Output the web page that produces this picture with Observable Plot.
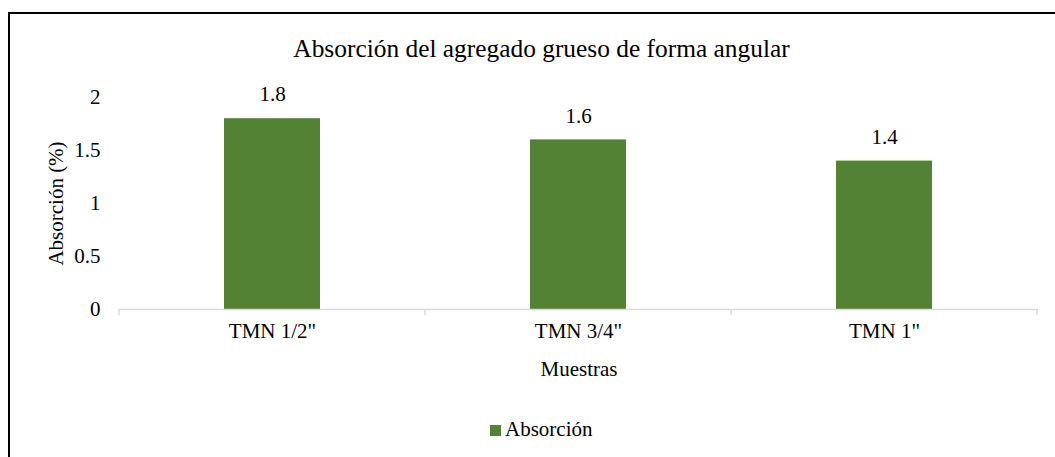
<!DOCTYPE html>
<html>
<head>
<meta charset="utf-8">
<script src="https://cdn.jsdelivr.net/npm/d3@7"></script>
<script src="https://cdn.jsdelivr.net/npm/@observablehq/plot@0.6"></script>
<style>
  html, body { margin: 0; padding: 0; background: #fff; }
  #wrap { position: relative; width: 1055px; height: 457px; overflow: hidden; font-family: "Liberation Serif", "Times New Roman", serif; }
  #frame { position: absolute; left: 8px; top: 12px; width: 1100px; height: 500px; border-left: 2px solid #000; border-top: 2px solid #000; box-sizing: border-box; pointer-events: none; }
  #title { position: absolute; left: 0; width: 1083px; top: 36px; text-align: center; font-size: 25.4px; line-height: 1; color: #000; white-space: nowrap; }
  #legend-sw { position: absolute; left: 490px; top: 425px; width: 11px; height: 11px; background: #548235; }
  #legend-tx { position: absolute; left: 505px; top: 419px; font-size: 21px; line-height: 1; color: #000; }
  #chart { position: absolute; left: 0; top: 0; }
</style>
</head>
<body>
<div id="wrap">
  <div id="chart"></div>
  <div id="frame"></div>
  <div id="title">Absorción del agregado grueso de forma angular</div>
  <div id="legend-sw"></div>
  <div id="legend-tx">Absorción</div>
</div>
<script>
const categories = ['TMN 1/2"', 'TMN 3/4"', 'TMN 1"'];
const values = [1.8, 1.6, 1.4];
const yTicks = [0, 0.5, 1, 1.5, 2];
const seriesName = "Absorción";

const data = categories.map((c, i) => ({ cat: c, value: values[i] }));
const fontFamily = '"Liberation Serif", "Times New Roman", serif';

const plot = Plot.plot({
  width: 1055,
  height: 457,
  marginLeft: 119,
  marginRight: 17,
  marginTop: 97,
  marginBottom: 148,
  style: { fontFamily, fontSize: "21px", color: "#000", background: "transparent", overflow: "visible" },
  x: { domain: categories, paddingInner: 0.686, paddingOuter: 0.343 },
  y: { domain: [0, 2] },
  marks: [
    Plot.barY(data, { x: "cat", y: "value", fill: "#548235" }),
    Plot.ruleY([0], { stroke: "#d9d9d9", strokeWidth: 1.5 }),
    Plot.text(data, { x: "cat", y: "value", text: d => String(d.value), dy: -24, fontSize: 21, fill: "#000" }),
    Plot.axisX({ tickSize: 0, tickPadding: 14, fontSize: 21, label: "Muestras", labelAnchor: "center", labelArrow: "none", labelOffset: 66 }),
    Plot.axisY({ ticks: yTicks, tickFormat: d => String(d), tickSize: 0, tickPadding: 19, fontSize: 21, label: "Absorción (%)", labelAnchor: "center", labelArrow: "none", labelOffset: 71 })
  ]
});
document.getElementById("chart").appendChild(plot);
document.getElementById("legend-tx").textContent = seriesName;

// category boundary tick marks on the baseline, from the library's band scale
const xs = plot.scale("x");
const ys = plot.scale("y");
const step = xs.step;
const y0 = ys.apply(0);
const svg = d3.select(plot);
d3.range(categories.length + 1).forEach(i => {
  const cx = i < categories.length
    ? xs.apply(categories[i]) + xs.bandwidth / 2 - step / 2
    : xs.apply(categories[i - 1]) + xs.bandwidth / 2 + step / 2;
  svg.append("line")
    .attr("x1", cx).attr("x2", cx)
    .attr("y1", y0).attr("y2", y0 + 6)
    .attr("stroke", "#d9d9d9").attr("stroke-width", 1.5);
});
</script>
</body>
</html>
